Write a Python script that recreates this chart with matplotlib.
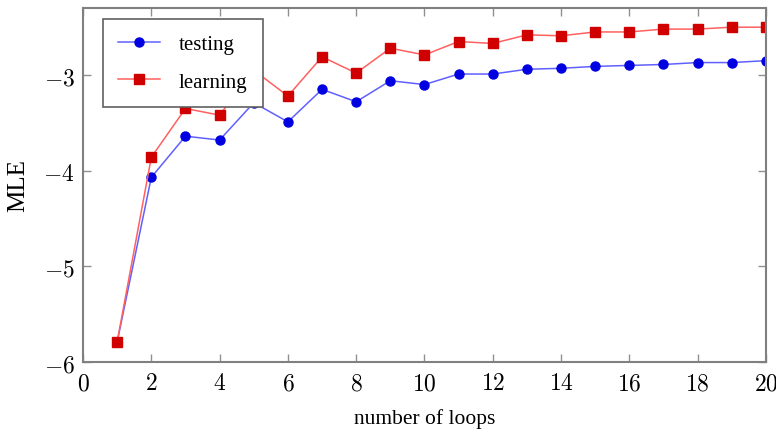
import matplotlib as mpl
mpl.use("Agg")
import matplotlib.pyplot as plt
from matplotlib.ticker import FuncFormatter

plt.rcParams["mathtext.fontset"] = "cm"

loops = list(range(1, 21))
testing = [-5.79, -4.07, -3.64, -3.68, -3.29, -3.49, -3.15, -3.28, -3.06, -3.10,
           -2.99, -2.99, -2.94, -2.93, -2.91, -2.90, -2.89, -2.87, -2.87, -2.85]
learning = [-5.79, -3.86, -3.35, -3.42, -2.95, -3.22, -2.81, -2.98, -2.72, -2.79,
            -2.65, -2.67, -2.58, -2.59, -2.55, -2.55, -2.52, -2.52, -2.50, -2.50]


def draw_mle(save_name: str):
    fig = plt.figure(figsize=(7.76, 4.31), dpi=100)
    ax = fig.add_axes([0.107, 0.158, 0.880, 0.821])

    # testing curve
    ax.plot(loops, testing, color="#6060ff", lw=1.1, label="testing",
            marker="o", markersize=6.5, markerfacecolor="#0000e0", markeredgecolor="#0000e0")
    # learning curve
    ax.plot(loops, learning, color="#ff6060", lw=1.1, label="learning",
            marker="s", markersize=6.5, markerfacecolor="#d00000", markeredgecolor="#d00000")

    ax.set_xlim(0, 20)
    ax.set_ylim(-6, -2.30)
    ax.set_xticks(range(0, 21, 2))
    ax.set_yticks([-6, -5, -4, -3])
    fmt = FuncFormatter(lambda v, p: r"$%d$" % v if v >= 0 else r"$-%d$" % abs(v))
    ax.xaxis.set_major_formatter(fmt)
    ax.yaxis.set_major_formatter(fmt)
    ax.tick_params(direction="in", top=True, right=True, length=6, width=1,
                   color="#909090", labelsize=17, pad=6)

    for s in ax.spines.values():
        s.set_color("#808080")
        s.set_linewidth(1.5)

    ax.set_ylabel("MLE", fontsize=18, family="Liberation Serif", labelpad=10)
    ax.set_xlabel("number of loops", fontsize=15.5, family="Liberation Serif", labelpad=10)

    leg = ax.legend(loc="upper left", bbox_to_anchor=(0.029, 0.969), fancybox=False,
                    prop={"family": "Liberation Serif", "size": 15},
                    borderpad=0.75, labelspacing=0.85, handlelength=2.0,
                    handletextpad=0.9, borderaxespad=0)
    leg.get_frame().set_edgecolor("#606060")
    leg.get_frame().set_linewidth(1.2)
    leg.get_frame().set_alpha(1)

    plt.savefig(save_name)


if __name__ == "__main__":
    draw_mle("out.png")
